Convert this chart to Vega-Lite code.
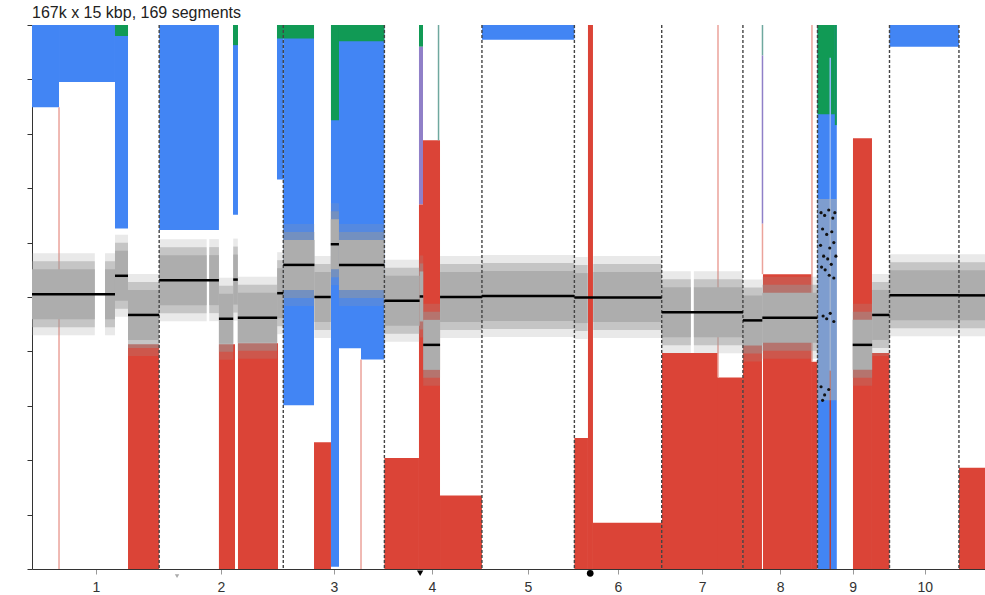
{
  "$schema": "https://vega.github.io/schema/vega-lite/v6.json",
  "width": 953,
  "height": 544,
  "autosize": {"type": "none"},
  "padding": {"left": 32, "top": 25, "right": 0, "bottom": 26},
  "title": {"text": "167k x 15 kbp, 169 segments", "anchor": "start", "frame": "group", "fontSize": 16, "fontWeight": "normal", "font": "Liberation Sans", "color": "#222", "offset": 3},
  "config": {"view": {"stroke": null}, "axis": {"grid": false}},
  "datasets": {
    "bars": [
      {"x0": 0, "x1": 52.9, "y0": 5, "y1": 3.49, "k": "blue"},
      {"x0": 52.9, "x1": 162.5, "y0": 5, "y1": 3.95, "k": "blue"},
      {"x0": 162.5, "x1": 188, "y0": 5, "y1": 1.26, "k": "blue"},
      {"x0": 249, "x1": 366, "y0": 5, "y1": 1.23, "k": "blue"},
      {"x0": 393.6, "x1": 403.3, "y0": 5, "y1": 1.51, "k": "blue"},
      {"x0": 479.7, "x1": 492, "y0": 5, "y1": 2.16, "k": "blue"},
      {"x0": 492, "x1": 552.2, "y0": 5, "y1": -1.99, "k": "blue"},
      {"x0": 585.4, "x1": 601.1, "y0": 5, "y1": -4.96, "k": "blue"},
      {"x0": 601.1, "x1": 644.2, "y0": 5, "y1": -0.94, "k": "blue"},
      {"x0": 644.2, "x1": 690, "y0": 5, "y1": -1.15, "k": "blue"},
      {"x0": 881, "x1": 1062, "y0": 5, "y1": 4.73, "k": "blue"},
      {"x0": 1538, "x1": 1575.8, "y0": 5, "y1": -5, "k": "blue"},
      {"x0": 1679, "x1": 1815, "y0": 5, "y1": 4.6, "k": "blue"},
      {"x0": 162.5, "x1": 188, "y0": 5, "y1": 4.8, "k": "green"},
      {"x0": 393.6, "x1": 403.3, "y0": 5, "y1": 4.63, "k": "green"},
      {"x0": 479.7, "x1": 552.2, "y0": 5, "y1": 4.75, "k": "green"},
      {"x0": 585.4, "x1": 601.1, "y0": 5, "y1": 3.25, "k": "green"},
      {"x0": 601.1, "x1": 690, "y0": 5, "y1": 4.7, "k": "green"},
      {"x0": 757.7, "x1": 765.6, "y0": 5, "y1": 4.6, "k": "green"},
      {"x0": 1538, "x1": 1572, "y0": 5, "y1": 3.36, "k": "green"},
      {"x0": 1572, "x1": 1575.8, "y0": 5, "y1": 3.16, "k": "green"},
      {"x0": 757.7, "x1": 765.6, "y0": 4.6, "y1": 1.7, "k": "purple"},
      {"x0": 188, "x1": 249, "y0": -5, "y1": -0.87, "k": "red"},
      {"x0": 366, "x1": 397.5, "y0": -5, "y1": -0.87, "k": "red"},
      {"x0": 403.3, "x1": 481.7, "y0": -5, "y1": -0.85, "k": "red"},
      {"x0": 552.2, "x1": 585.4, "y0": -5, "y1": -2.67, "k": "red"},
      {"x0": 690, "x1": 757.7, "y0": -5, "y1": -2.96, "k": "red"},
      {"x0": 757.7, "x1": 765.6, "y0": -5, "y1": 1.7, "k": "red"},
      {"x0": 765.6, "x1": 798.9, "y0": -5, "y1": 2.88, "k": "red"},
      {"x0": 798.9, "x1": 881, "y0": -5, "y1": -3.65, "k": "red"},
      {"x0": 1062, "x1": 1088.6, "y0": -5, "y1": -2.59, "k": "red"},
      {"x0": 1088.6, "x1": 1098.4, "y0": -5, "y1": 5, "k": "red"},
      {"x0": 1098.4, "x1": 1233.5, "y0": -5, "y1": -4.15, "k": "red"},
      {"x0": 1233.5, "x1": 1343.2, "y0": -5, "y1": -1.03, "k": "red"},
      {"x0": 1343.2, "x1": 1392, "y0": -5, "y1": -1.48, "k": "red"},
      {"x0": 1392, "x1": 1429.3, "y0": -5, "y1": -0.85, "k": "red"},
      {"x0": 1431.3, "x1": 1527.2, "y0": -5, "y1": 0.42, "k": "red"},
      {"x0": 1527.2, "x1": 1538, "y0": -5, "y1": -1.19, "k": "red"},
      {"x0": 1607.5, "x1": 1644.7, "y0": -5, "y1": 2.92, "k": "red"},
      {"x0": 1644.7, "x1": 1679, "y0": -5, "y1": -1.03, "k": "red"},
      {"x0": 1815, "x1": 1866, "y0": -5, "y1": -3.14, "k": "red"}
    ],
    "thin": [
      {"x": 52.9, "y0": 3.49, "y1": -5, "k": "pink"},
      {"x": 644.2, "y0": -1.15, "y1": -5, "k": "pink"},
      {"x": 1343.2, "y0": 5, "y1": -1.48, "k": "pink"},
      {"x": 1430.3, "y0": 1.35, "y1": 0.42, "k": "pink"},
      {"x": 1527.2, "y0": 5, "y1": -1.19, "k": "pink"},
      {"x": 1430.3, "y0": 5, "y1": 4.44, "k": "teal"},
      {"x": 796, "y0": 5, "y1": 2.88, "k": "teal"},
      {"x": 1430.3, "y0": 4.44, "y1": 1.35, "k": "purple"},
      {"x": 1563, "y0": -1.35, "y1": -5, "k": "darkred"},
      {"x": 1563, "y0": 4.4, "y1": -1.35, "k": "lightblue"}
    ],
    "noise": [
      {"x0": 0, "x1": 123, "m": 0.05},
      {"x0": 143, "x1": 162.5, "m": 0.05},
      {"x0": 162.5, "x1": 188, "m": 0.39},
      {"x0": 188, "x1": 249, "m": -0.33},
      {"x0": 249, "x1": 342, "m": 0.31},
      {"x0": 347, "x1": 366, "m": 0.31},
      {"x0": 366, "x1": 394, "m": -0.4},
      {"x0": 394, "x1": 403, "m": 0.32},
      {"x0": 403, "x1": 480, "m": -0.38},
      {"x0": 480, "x1": 492, "m": 0.07},
      {"x0": 492, "x1": 553, "m": 0.59},
      {"x0": 553, "x1": 585, "m": 0.0},
      {"x0": 585, "x1": 601, "m": 0.97},
      {"x0": 601, "x1": 690, "m": 0.59},
      {"x0": 690, "x1": 759, "m": -0.07},
      {"x0": 759, "x1": 766, "m": 0.01},
      {"x0": 766, "x1": 799, "m": -0.88},
      {"x0": 799, "x1": 881, "m": 0.0},
      {"x0": 881, "x1": 1062, "m": 0.02},
      {"x0": 1062, "x1": 1088, "m": -0.02},
      {"x0": 1099, "x1": 1233, "m": 0.0},
      {"x0": 1233, "x1": 1290, "m": -0.28},
      {"x0": 1296, "x1": 1392, "m": -0.28},
      {"x0": 1392, "x1": 1430, "m": -0.43},
      {"x0": 1430, "x1": 1538, "m": -0.38},
      {"x0": 1607, "x1": 1645, "m": -0.88},
      {"x0": 1645, "x1": 1679, "m": -0.33},
      {"x0": 1679, "x1": 1815, "m": 0.03},
      {"x0": 1815, "x1": 1866, "m": 0.03}
    ],
    "noise9": [
      {"x0": 1538, "x1": 1576, "lo": -1.9, "hi": 1.8}
    ],
    "seg": [
      {"x0": 0, "x1": 162.5, "m": 0.05},
      {"x0": 162.5, "x1": 188, "m": 0.39},
      {"x0": 188, "x1": 249, "m": -0.33},
      {"x0": 249, "x1": 366, "m": 0.31},
      {"x0": 366, "x1": 394, "m": -0.4},
      {"x0": 394, "x1": 403, "m": 0.32},
      {"x0": 403, "x1": 480, "m": -0.38},
      {"x0": 480, "x1": 492, "m": 0.07},
      {"x0": 492, "x1": 553, "m": 0.59},
      {"x0": 553, "x1": 585, "m": 0.0},
      {"x0": 585, "x1": 601, "m": 0.97},
      {"x0": 601, "x1": 690, "m": 0.59},
      {"x0": 690, "x1": 759, "m": -0.07},
      {"x0": 759, "x1": 766, "m": 0.01},
      {"x0": 766, "x1": 799, "m": -0.88},
      {"x0": 799, "x1": 881, "m": 0.0},
      {"x0": 881, "x1": 1062, "m": 0.02},
      {"x0": 1062, "x1": 1233, "m": -0.01},
      {"x0": 1233, "x1": 1392, "m": -0.28},
      {"x0": 1392, "x1": 1430, "m": -0.43},
      {"x0": 1430, "x1": 1538, "m": -0.38},
      {"x0": 1607, "x1": 1645, "m": -0.88},
      {"x0": 1645, "x1": 1679, "m": -0.33},
      {"x0": 1679, "x1": 1815, "m": 0.03},
      {"x0": 1815, "x1": 1866, "m": 0.03}
    ],
    "bounds": [
      {"x": 249}, {"x": 492}, {"x": 690}, {"x": 881}, {"x": 1062},
      {"x": 1233}, {"x": 1392}, {"x": 1538}, {"x": 1679}, {"x": 1815}
    ],
    "dots9": [
      {"x": 1545, "y": 1.55}, {"x": 1552, "y": 1.5}, {"x": 1560, "y": 1.6}, {"x": 1568, "y": 1.45},
      {"x": 1572, "y": 1.55}, {"x": 1548, "y": 1.25}, {"x": 1556, "y": 1.15}, {"x": 1566, "y": 1.2},
      {"x": 1544, "y": 0.95}, {"x": 1562, "y": 0.9}, {"x": 1570, "y": 1.0}, {"x": 1550, "y": 0.75},
      {"x": 1558, "y": 0.7}, {"x": 1565, "y": 0.6}, {"x": 1546, "y": 0.55}, {"x": 1553, "y": 0.5},
      {"x": 1561, "y": 0.4}, {"x": 1570, "y": 0.35}, {"x": 1574, "y": 0.75}, {"x": 1549, "y": -0.35},
      {"x": 1556, "y": -0.4}, {"x": 1563, "y": -0.3}, {"x": 1570, "y": -0.45}, {"x": 1545, "y": -1.65},
      {"x": 1552, "y": -1.8}, {"x": 1560, "y": -1.7}, {"x": 1548, "y": -1.9}
    ]
  },
  "layer": [
    {
      "data": {"name": "bars"},
      "mark": {"type": "rect"},
      "encoding": {
        "x": {"field": "x0", "type": "quantitative", "title": null,
          "scale": {"domain": [0, 1866], "nice": false, "zero": false},
          "axis": {"values": [125, 370, 591, 783, 971, 1147, 1312, 1465, 1607, 1748],
            "labelExpr": "datum.value < 200 ? '1' : datum.value < 450 ? '2' : datum.value < 650 ? '3' : datum.value < 850 ? '4' : datum.value < 1050 ? '5' : datum.value < 1200 ? '6' : datum.value < 1400 ? '7' : datum.value < 1550 ? '8' : datum.value < 1700 ? '9' : '10'",
            "tickSize": 5, "tickColor": "#999", "domainColor": "#333", "labelFontSize": 14, "labelColor": "#333",
            "labelFont": "Liberation Sans", "labelPadding": 6, "grid": false, "labelFlush": false, "labelOverlap": false}},
        "x2": {"field": "x1"},
        "y": {"field": "y0", "type": "quantitative", "title": null,
          "scale": {"domain": [-5, 5], "nice": false, "zero": false},
          "axis": {"values": [-5, -4, -3, -2, -1, 0, 1, 2, 3, 4, 5], "labels": false, "tickSize": 5, "tickColor": "#333", "domainColor": "#333", "grid": false}},
        "y2": {"field": "y1"},
        "color": {"field": "k", "type": "nominal", "legend": null,
          "scale": {"domain": ["blue", "green", "red", "purple", "pink", "teal", "lightblue", "darkred"],
            "range": ["#4285f4", "#119a55", "#db4437", "#9080c8", "#eba39b", "#6fa89f", "#8fb5f5", "#b8403a"]}}
      }
    },
    {
      "data": {"name": "thin"},
      "mark": {"type": "rule", "strokeWidth": 1.5},
      "encoding": {
        "x": {"field": "x", "type": "quantitative", "title": null},
        "y": {"field": "y0", "type": "quantitative", "title": null},
        "y2": {"field": "y1"},
        "color": {"field": "k", "type": "nominal", "legend": null}
      }
    },
    {
      "data": {"name": "noise"},
      "mark": {"type": "rect", "color": "#9a9a9a", "opacity": 0.22, "yOffset": -41, "y2Offset": 41},
      "encoding": {
        "x": {"field": "x0", "type": "quantitative", "title": null},
        "x2": {"field": "x1"},
        "y": {"field": "m", "type": "quantitative", "title": null},
        "y2": {"field": "m"}
      }
    },
    {
      "data": {"name": "noise"},
      "mark": {"type": "rect", "color": "#9a9a9a", "opacity": 0.45, "yOffset": -33, "y2Offset": 33},
      "encoding": {
        "x": {"field": "x0", "type": "quantitative", "title": null},
        "x2": {"field": "x1"},
        "y": {"field": "m", "type": "quantitative", "title": null},
        "y2": {"field": "m"}
      }
    },
    {
      "data": {"name": "noise"},
      "mark": {"type": "rect", "color": "#adadad", "yOffset": -25, "y2Offset": 25},
      "encoding": {
        "x": {"field": "x0", "type": "quantitative", "title": null},
        "x2": {"field": "x1"},
        "y": {"field": "m", "type": "quantitative", "title": null},
        "y2": {"field": "m"}
      }
    },
    {
      "data": {"name": "noise9"},
      "mark": {"type": "rect", "color": "#b0b0b0", "opacity": 0.55},
      "encoding": {
        "x": {"field": "x0", "type": "quantitative", "title": null},
        "x2": {"field": "x1"},
        "y": {"field": "lo", "type": "quantitative", "title": null},
        "y2": {"field": "hi"}
      }
    },
    {
      "data": {"name": "dots9"},
      "mark": {"type": "point", "filled": true, "color": "#111", "size": 10, "opacity": 1},
      "encoding": {
        "x": {"field": "x", "type": "quantitative", "title": null},
        "y": {"field": "y", "type": "quantitative", "title": null}
      }
    },
    {
      "data": {"name": "bounds"},
      "mark": {"type": "rule", "color": "#444", "strokeWidth": 1.4, "strokeDash": [3, 2]},
      "encoding": {
        "x": {"field": "x", "type": "quantitative", "title": null}
      }
    },
    {
      "data": {"name": "seg"},
      "mark": {"type": "rule", "color": "#000", "strokeWidth": 2.5},
      "encoding": {
        "x": {"field": "x0", "type": "quantitative", "title": null},
        "x2": {"field": "x1"},
        "y": {"field": "m", "type": "quantitative", "title": null}
      }
    },
    {
      "mark": {"type": "rule", "color": "#000", "strokeWidth": 1},
      "encoding": {"y": {"datum": 0}}
    },
    {
      "mark": {"type": "rule", "color": "#222", "strokeWidth": 1},
      "encoding": {"y": {"datum": 5}}
    },
    {
      "data": {"values": [{"x": 760, "y": -5.08}]},
      "mark": {"type": "point", "shape": "triangle-down", "filled": true, "color": "#000", "size": 40, "opacity": 1},
      "encoding": {
        "x": {"field": "x", "type": "quantitative", "title": null},
        "y": {"field": "y", "type": "quantitative", "title": null}
      }
    },
    {
      "data": {"values": [{"x": 1093, "y": -5.08}]},
      "mark": {"type": "point", "shape": "circle", "filled": true, "color": "#000", "size": 45, "opacity": 1},
      "encoding": {
        "x": {"field": "x", "type": "quantitative", "title": null},
        "y": {"field": "y", "type": "quantitative", "title": null}
      }
    },
    {
      "data": {"values": [{"x": 284, "y": -5.13}]},
      "mark": {"type": "point", "shape": "triangle-down", "filled": true, "color": "#aaa", "size": 20, "opacity": 1},
      "encoding": {
        "x": {"field": "x", "type": "quantitative", "title": null},
        "y": {"field": "y", "type": "quantitative", "title": null}
      }
    }
  ]
}
